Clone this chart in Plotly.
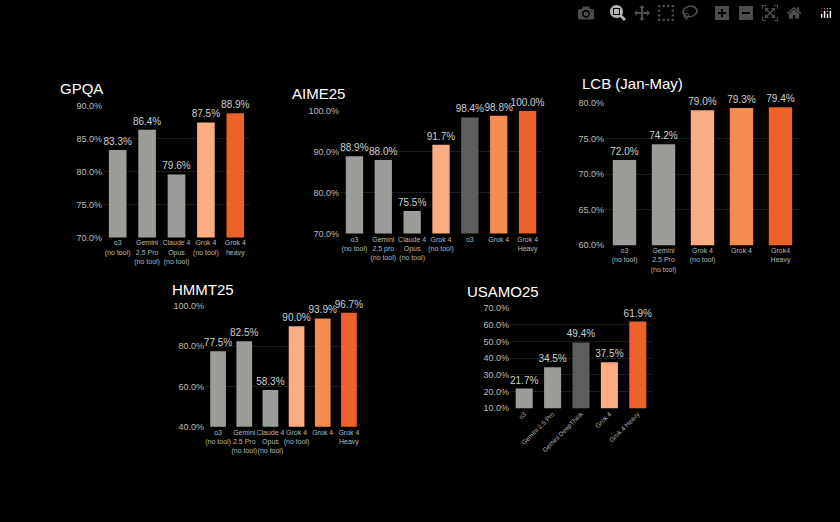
import plotly.graph_objects as go

GRAY, DGRAY, LOR, MOR, DOR = "#9b9d99", "#5c5f5b", "#f8ae82", "#f48b4f", "#ec622a"

gpqa_cats = ["o3<br>(no tool)", "Gemini<br>2.5 Pro<br>(no tool)", "Claude 4<br>Opus<br>(no tool)", "Grok 4<br>(no tool)", "Grok 4<br>heavy"]
gpqa_vals = [83.3, 86.4, 79.6, 87.5, 88.9]
gpqa_cols = [GRAY, GRAY, GRAY, LOR, DOR]

aime_cats = ["o3<br>(no tool)", "Gemini<br>2.5 pro<br>(no tool)", "Claude 4<br>Opus<br>(no tool)", "Grok 4<br>(no tool)", "o3", "Grok 4", "Grok 4<br>Heavy"]
aime_vals = [88.9, 88.0, 75.5, 91.7, 98.4, 98.8, 100.0]
aime_cols = [GRAY, GRAY, GRAY, LOR, DGRAY, MOR, DOR]

lcb_cats = ["o3<br>(no tool)", "Gemini<br>2.5 Pro<br>(no tool)", "Grok 4<br>(no tool)", "Grok 4", "Grok4<br>Heavy"]
lcb_vals = [72.0, 74.2, 79.0, 79.3, 79.4]
lcb_cols = [GRAY, GRAY, LOR, MOR, DOR]

hmmt_cats = ["o3<br>(no tool)", "Gemini<br>2.5 Pro<br>(no tool)", "Claude 4<br>Opus<br>(no tool)", "Grok 4<br>(no tool)", "Grok 4", "Grok 4<br>Heavy"]
hmmt_vals = [77.5, 82.5, 58.3, 90.0, 93.9, 96.7]
hmmt_cols = [GRAY, GRAY, GRAY, LOR, MOR, DOR]

usamo_cats = ["o3", "Gemini 2.5 Pro", "Gemini DeepThink", "Grok 4", "Grok 4 Heavy"]
usamo_vals = [21.7, 34.5, 49.4, 37.5, 61.9]
usamo_cols = [GRAY, GRAY, DGRAY, LOR, DOR]

W, H = 840, 522
panels = [
    ("GPQA", gpqa_cats, gpqa_vals, gpqa_cols, (103, 250), (237, 103), (70, 90), 5, (58, 85), 0),
    ("AIME25", aime_cats, aime_vals, aime_cols, (340, 542), (233, 108), (70, 100), 10, (290, 90), 0),
    ("LCB (Jan-May)", lcb_cats, lcb_vals, lcb_cols, (605, 800), (245, 100), (60, 80), 5, (580, 80), 0),
    ("HMMT25", hmmt_cats, hmmt_vals, hmmt_cols, (205, 362), (430, 307), (40, 100), 20, (170, 290), 0),
    ("USAMO25", usamo_cats, usamo_vals, usamo_cols, (510, 652), (411, 309), (10, 70), 10, (465, 292), -45),
]

fig = go.Figure()
layout = {}
annotations = []
for i, (title, cats, vals, cols, xp, yp, rng, dt, tp, ang) in enumerate(panels):
    n = "" if i == 0 else str(i + 1)
    fig.add_trace(go.Bar(
        x=cats, y=vals, marker=dict(color=cols, line=dict(width=0)), width=0.6,
        text=[f"{v:.1f}%" for v in vals], textposition="outside", constraintext="none",
        textfont=dict(color="#cfcfcf", size=10, family="Liberation Sans"),
        cliponaxis=False, xaxis="x" + n, yaxis="y" + n, showlegend=False))
    layout["xaxis" + n] = dict(domain=[xp[0] / W, xp[1] / W], anchor="y" + n,
                               tickfont=dict(size=7 if ang == 0 else 6.5, color="#b8b8b8"),
                               tickangle=ang, showgrid=False, showline=False, zeroline=False, ticks="")
    layout["yaxis" + n] = dict(domain=[1 - yp[0] / H, 1 - yp[1] / H], anchor="x" + n,
                               range=list(rng), dtick=dt, tick0=rng[0], ticksuffix="%", tickformat=".1f",
                               tickfont=dict(size=9, color="#bdbdbd"), gridcolor="#1c1c1c",
                               zeroline=False, showline=False)
    annotations.append(dict(text=title, x=tp[0] / W, y=1 - tp[1] / H, xref="paper", yref="paper",
                            xanchor="left", yanchor="middle", showarrow=False,
                            font=dict(size=15, color="white", family="Liberation Sans")))

fig.update_layout(width=W, height=H, margin=dict(l=0, r=0, t=0, b=0),
                  paper_bgcolor="black", plot_bgcolor="black",
                  font=dict(family="Liberation Sans", color="#bdbdbd"), annotations=annotations, **layout)
fig.write_html("out.html", post_script="document.body.style.margin='0';document.body.style.background='black';")
